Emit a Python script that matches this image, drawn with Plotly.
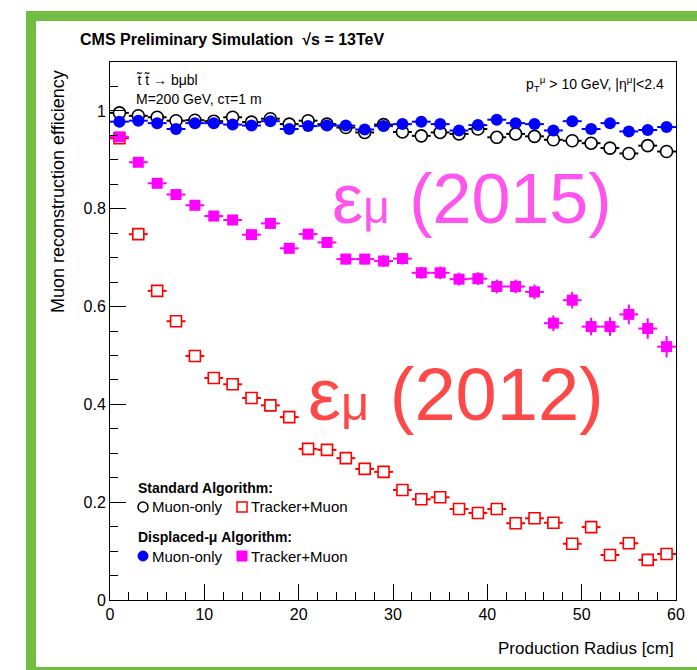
import plotly.graph_objects as go

# ---------------- data ----------------
radius = [1, 3, 5, 7, 9, 11, 13, 15, 17, 19, 21, 23, 25, 27, 29,
          31, 33, 35, 37, 39, 41, 43, 45, 47, 49, 51, 53, 55, 57, 59]
bin_half_width = [1.0] * len(radius)

# Standard algorithm, muon-only
std_muon = [0.996, 0.990, 0.987, 0.980, 0.981, 0.979, 0.987, 0.977, 0.984, 0.973,
            0.980, 0.973, 0.966, 0.956, 0.972, 0.957, 0.949, 0.956, 0.953, 0.963,
            0.946, 0.953, 0.948, 0.941, 0.939, 0.934, 0.924, 0.913, 0.929, 0.917]
std_muon_err = [0.003, 0.003, 0.003, 0.004, 0.004, 0.004, 0.004, 0.004, 0.004, 0.005,
                0.005, 0.005, 0.005, 0.005, 0.005, 0.006, 0.006, 0.006, 0.006, 0.006,
                0.006, 0.007, 0.007, 0.007, 0.007, 0.008, 0.008, 0.008, 0.008, 0.008]

# Standard algorithm, tracker+muon
std_trk = [0.944, 0.748, 0.632, 0.570, 0.499, 0.454, 0.441, 0.413, 0.398, 0.374,
           0.309, 0.307, 0.290, 0.268, 0.262, 0.225, 0.206, 0.210, 0.186, 0.178,
           0.186, 0.157, 0.167, 0.158, 0.115, 0.149, 0.092, 0.116, 0.082, 0.094]
std_trk_err = [0.006, 0.008, 0.009, 0.009, 0.010, 0.010, 0.010, 0.010, 0.010, 0.011,
               0.011, 0.011, 0.011, 0.011, 0.011, 0.011, 0.011, 0.011, 0.011, 0.011,
               0.011, 0.011, 0.011, 0.011, 0.012, 0.012, 0.012, 0.012, 0.012, 0.012]

# Displaced-mu algorithm, muon-only
dsp_muon = [0.978, 0.980, 0.975, 0.963, 0.975, 0.975, 0.972, 0.970, 0.979, 0.963,
            0.969, 0.970, 0.970, 0.962, 0.969, 0.973, 0.978, 0.973, 0.960, 0.971,
            0.982, 0.975, 0.973, 0.960, 0.979, 0.963, 0.975, 0.958, 0.961, 0.967]
dsp_muon_err = [0.003, 0.003, 0.003, 0.004, 0.004, 0.004, 0.004, 0.004, 0.004, 0.004,
                0.005, 0.005, 0.005, 0.005, 0.005, 0.005, 0.005, 0.005, 0.006, 0.006,
                0.006, 0.006, 0.006, 0.006, 0.006, 0.007, 0.007, 0.007, 0.007, 0.007]

# Displaced-mu algorithm, tracker+muon
dsp_trk = [0.947, 0.895, 0.852, 0.829, 0.807, 0.785, 0.777, 0.747, 0.770, 0.719,
           0.748, 0.731, 0.697, 0.697, 0.693, 0.698, 0.669, 0.669, 0.656, 0.657,
           0.641, 0.641, 0.630, 0.566, 0.613, 0.559, 0.559, 0.584, 0.555, 0.518]
dsp_trk_err = [0.005, 0.006, 0.007, 0.008, 0.008, 0.009, 0.009, 0.010, 0.010, 0.010,
               0.011, 0.011, 0.011, 0.011, 0.012, 0.012, 0.012, 0.013, 0.013, 0.013,
               0.014, 0.014, 0.015, 0.016, 0.017, 0.018, 0.019, 0.020, 0.021, 0.022]

x_ticks = [0, 10, 20, 30, 40, 50, 60]
y_ticks = [0, 0.2, 0.4, 0.6, 0.8, 1]

# ---------------- layout geometry (pixels) ----------------
W, H = 697, 670
L, R, T, B = 110, 676, 62, 600
FONT = "Liberation Sans, Arial, Helvetica, sans-serif"
GREEN = "#72be44"


def px(xp):
    return (xp - L) / (R - L)


def py(yp):
    return (B - yp) / (B - T)


fig = go.Figure()


def add_series(y, err, name, symbol, size, fill, line_color, line_w, bar_color):
    fig.add_trace(go.Scatter(
        x=radius, y=y, mode="markers", name=name,
        marker=dict(symbol=symbol, size=size, color=fill,
                    line=dict(color=line_color, width=line_w)),
        error_x=dict(type="data", array=bin_half_width, color=bar_color,
                     thickness=2, width=0),
        error_y=dict(type="data", array=err, color=bar_color,
                     thickness=2, width=0),
        showlegend=False,
    ))


add_series(std_muon, std_muon_err, "Standard Muon-only", "circle", 12,
           "white", "black", 1.6, "black")
add_series(std_trk, std_trk_err, "Standard Tracker+Muon", "square", 11,
           "white", "#ff0000", 1.6, "#ff0000")
add_series(dsp_muon, dsp_muon_err, "Displaced Muon-only", "circle", 12,
           "#0000ff", "#0000ff", 0, "#0000ff")
add_series(dsp_trk, dsp_trk_err, "Displaced Tracker+Muon", "square", 11,
           "#ff00ff", "#ff00ff", 0, "#ff00ff")

shapes = []
# green frame around the figure
for x0, x1, y0, y1 in [(26, 36, 11, 720), (26, 760, 11, 21), (26, 760, 667, 720)]:
    shapes.append(dict(type="rect", xref="paper", yref="paper",
                       x0=px(x0), x1=px(x1), y0=py(y1), y1=py(y0),
                       fillcolor=GREEN, line=dict(width=0), layer="below"))

# legend symbols
shapes.append(dict(type="circle", xref="paper", yref="paper",
                   x0=px(138), x1=px(148), y0=py(512), y1=py(502),
                   line=dict(color="black", width=1.5), fillcolor="white"))
shapes.append(dict(type="rect", xref="paper", yref="paper",
                   x0=px(237), x1=px(247), y0=py(512), y1=py(502),
                   line=dict(color="#ff0000", width=1.5), fillcolor="white"))
shapes.append(dict(type="circle", xref="paper", yref="paper",
                   x0=px(138), x1=px(148), y0=py(561), y1=py(551),
                   line=dict(color="#0000ff", width=1), fillcolor="#0000ff"))
shapes.append(dict(type="rect", xref="paper", yref="paper",
                   x0=px(237), x1=px(247), y0=py(561), y1=py(551),
                   line=dict(color="#ff00ff", width=1), fillcolor="#ff00ff"))

annotations = []


def text(x, y, s, size, color="black", xanchor="left", yanchor="middle",
         angle=0):
    annotations.append(dict(x=px(x), y=py(y), xref="paper", yref="paper",
                            text=s, showarrow=False, xanchor=xanchor,
                            yanchor=yanchor, textangle=angle,
                            font=dict(family=FONT, size=size, color=color)))


text(78, 40, "<b>CMS Preliminary Simulation  √s = 13TeV</b>", 16)
text(134, 80, "t̃ t̃ → bμbl", 14)
text(134, 99, "M=200 GeV, cτ=1 m", 14)
text(666, 84, "p<sub>T</sub><sup>μ</sup> > 10 GeV, |η<sup>μ</sup>|<2.4", 14,
     xanchor="right")

# legend text
text(136, 488, "<b>Standard Algorithm:</b>", 14)
text(150, 507, "Muon-only", 15)
text(249, 507, "Tracker+Muon", 15)
text(136, 537, "<b>Displaced-μ Algorithm:</b>", 14)
text(150, 556, "Muon-only", 15)
text(249, 556, "Tracker+Muon", 15)

# large efficiency labels
text(330, 199, "ε<span style='font-size:46px'>μ</span> (2015)", 70,
     color="#ff55ee")
text(306, 394, "ε<span style='font-size:49px'>μ</span> (2012)", 74,
     color="#ff4848")

# axis titles
text(58, 192, "Muon reconstruction efficiency", 18, xanchor="center",
     angle=-90)
text(676, 648, "Production Radius [cm]", 17, xanchor="right")

axis_common = dict(showline=True, linecolor="black", linewidth=1, mirror=True,
                   showgrid=False, zeroline=False, ticks="inside",
                   tickcolor="black", tickwidth=1,
                   tickfont=dict(family=FONT, size=16, color="black"))

fig.update_layout(
    width=W, height=H,
    margin=dict(l=L, r=W - R, t=T, b=H - B),
    paper_bgcolor="white", plot_bgcolor="white",
    xaxis=dict(range=[0, 60], tickvals=x_ticks, ticklen=16,
               minor=dict(dtick=2, ticks="inside", ticklen=8,
                          tickcolor="black", showgrid=False),
               **axis_common),
    yaxis=dict(range=[0, 1.1], tickvals=y_ticks, ticklen=16,
               minor=dict(dtick=0.05, ticks="inside", ticklen=8,
                          tickcolor="black", showgrid=False),
               **axis_common),
    shapes=shapes,
    annotations=annotations,
    showlegend=False,
)

fig.write_html("out.html")
